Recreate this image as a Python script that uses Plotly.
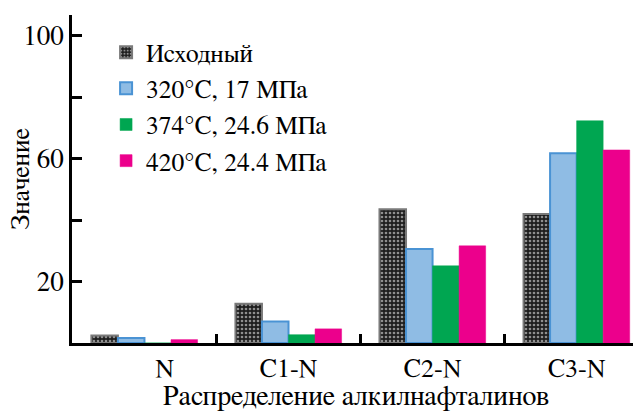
import plotly.graph_objects as go

categories = ["N", "C1-N", "C2-N", "C3-N"]
series_names = ["Исходный", "320°C, 17 МПа", "374°C, 24.6 МПа", "420°C, 24.4 МПа"]
v_initial = [2.4, 12.8, 43.5, 42.0]
v_320 = [1.6, 7.0, 30.6, 61.7]
v_374 = [0.0, 2.7, 25.1, 72.3]
v_420 = [1.1, 4.6, 31.6, 62.8]
y_tick_vals = [20, 60, 100]
y_minor_vals = [40, 80]

FONT = "FreeSerif"
xpos = list(range(len(categories)))

fig = go.Figure()
fig.add_trace(go.Bar(
    x=xpos, y=v_initial, name=series_names[0],
    marker=dict(color="#1e1e1e",
                line=dict(color="#7a7a7a", width=2),
                pattern=dict(shape=".", fgcolor="white", bgcolor="#1e1e1e",
                             size=4, solidity=0.35)),
))
fig.add_trace(go.Bar(
    x=xpos, y=v_320, name=series_names[1],
    marker=dict(color="#8fbce4", line=dict(color="#4a93d4", width=2)),
))
fig.add_trace(go.Bar(
    x=xpos, y=v_374, name=series_names[2],
    marker=dict(color="#00a651", line=dict(color="#00a651", width=0.5)),
))
fig.add_trace(go.Bar(
    x=xpos, y=v_420, name=series_names[3],
    marker=dict(color="#ec008c", line=dict(color="#ec008c", width=0.5)),
))

tickvals = [0.14, 1, 2, 3]

fig.update_layout(
    width=633, height=403,
    margin=dict(l=64, r=1, t=7, b=68),
    paper_bgcolor="white", plot_bgcolor="white",
    barmode="group", bargap=0.263, bargroupgap=0,
    font=dict(family=FONT, size=24, color="black"),
    showlegend=True,
    legend=dict(x=0.06, y=0.957, xanchor="left", yanchor="top",
                bgcolor="rgba(0,0,0,0)", borderwidth=0,
                font=dict(family=FONT, size=25.5, color="black"),
                tracegroupgap=0),
    xaxis=dict(
        range=[-0.503, 3.44], automargin=False,
        tickmode="array", tickvals=tickvals, ticktext=categories,
        ticks="", showgrid=False, zeroline=False,
        showline=True, linecolor="black", linewidth=2.5,
        minor=dict(tickmode="array", tickvals=[0.5, 1.5, 2.5],
                   ticks="inside", ticklen=9, tickwidth=2.5, tickcolor="black",
                   showgrid=False),
        tickfont=dict(family=FONT, size=26, color="black"),
        title=dict(text="Распределение алкилнафталинов", standoff=9,
                   font=dict(family=FONT, size=28, color="black")),
    ),
    yaxis=dict(
        range=[0, 106.7], automargin=False,
        tickmode="array", tickvals=y_tick_vals,
        ticks="inside", ticklen=10, tickwidth=2.5, tickcolor="black",
        showgrid=False, zeroline=False,
        showline=True, linecolor="black", linewidth=2.5,
        minor=dict(tickmode="array", tickvals=y_minor_vals,
                   ticks="inside", ticklen=10, tickwidth=2.5, tickcolor="black",
                   showgrid=False),
        tickfont=dict(family=FONT, size=27, color="black"),
        title=dict(text="Значение", standoff=4,
                   font=dict(family=FONT, size=26, color="black")),
    ),
)

fig.write_html("out.html")
